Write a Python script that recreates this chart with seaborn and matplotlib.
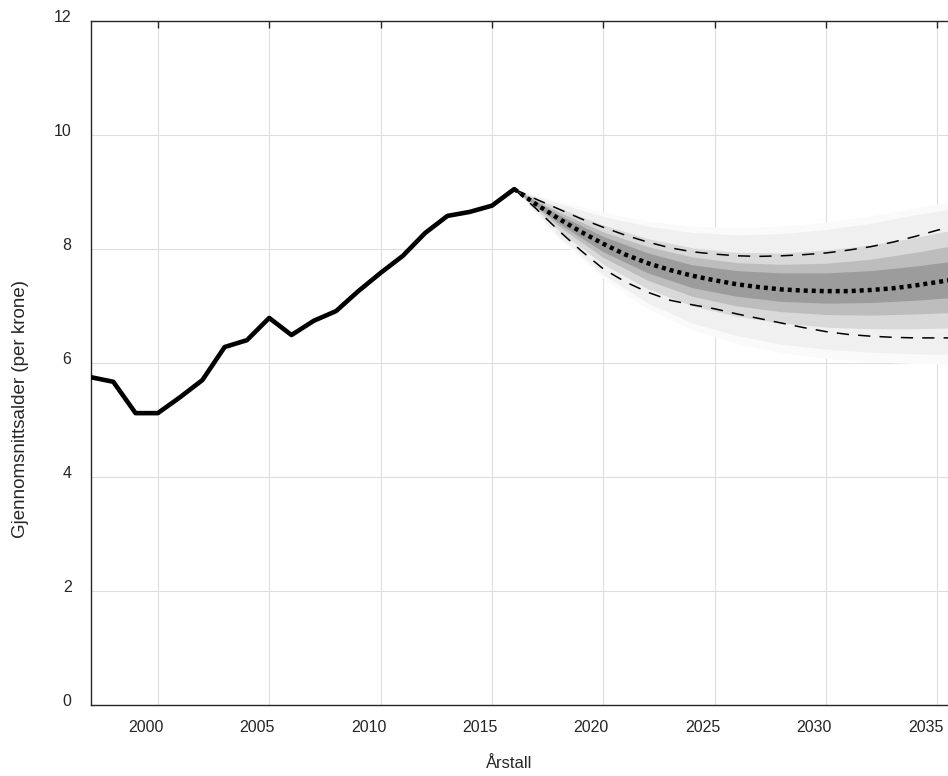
import pandas as pd
import matplotlib
matplotlib.use("Agg")
import matplotlib.pyplot as plt
import matplotlib.transforms as mtransforms
import seaborn as sns

# historical series
hist_years = list(range(1997, 2017))
hist_values = [5.75, 5.67, 5.12, 5.12, 5.40, 5.70, 6.28, 6.40, 6.79, 6.49,
               6.74, 6.91, 7.26, 7.58, 7.88, 8.28, 8.58, 8.65, 8.76, 9.05]

# forecast: median and bounds (yearly)
fc_years = list(range(2016, 2037))
fc_median = [9.05, 8.78, 8.53, 8.30, 8.09, 7.90, 7.75, 7.63, 7.53, 7.45, 7.38,
             7.33, 7.29, 7.27, 7.26, 7.26, 7.28, 7.31, 7.36, 7.42, 7.48]
fc_upper = [9.05, 8.87, 8.70, 8.53, 8.38, 8.24, 8.12, 8.02, 7.95, 7.91, 7.88,
            7.87, 7.88, 7.90, 7.93, 7.98, 8.04, 8.12, 8.22, 8.33, 8.43]
fc_lower = [9.05, 8.70, 8.32, 7.97, 7.65, 7.42, 7.24, 7.10, 7.02, 6.95, 6.86,
            6.78, 6.70, 6.62, 6.55, 6.50, 6.47, 6.45, 6.44, 6.44, 6.44]

# fan bands (every second year), outer to inner
band_years = list(range(2016, 2037, 2))
band5_hi = [9.05, 8.84, 8.64, 8.49, 8.40, 8.37, 8.40, 8.47, 8.58, 8.72, 8.86]
band5_lo = [9.05, 8.18, 7.48, 6.95, 6.58, 6.34, 6.18, 6.08, 6.02, 5.99, 5.98]
band4_hi = [9.05, 8.80, 8.57, 8.40, 8.29, 8.25, 8.27, 8.34, 8.45, 8.60, 8.72]
band4_lo = [9.05, 8.22, 7.55, 7.05, 6.70, 6.48, 6.33, 6.24, 6.19, 6.16, 6.15]
band3_hi = [9.05, 8.72, 8.42, 8.18, 8.02, 7.94, 7.93, 7.98, 8.07, 8.20, 8.36]
band3_lo = [9.05, 8.32, 7.73, 7.30, 7.00, 6.82, 6.70, 6.63, 6.60, 6.60, 6.62]
band2_hi = [9.05, 8.65, 8.30, 8.04, 7.86, 7.76, 7.73, 7.75, 7.82, 7.94, 8.08]
band2_lo = [9.05, 8.40, 7.85, 7.45, 7.17, 7.00, 6.90, 6.85, 6.84, 6.86, 6.89]
band1_hi = [9.05, 8.60, 8.22, 7.93, 7.72, 7.62, 7.58, 7.58, 7.62, 7.70, 7.80]
band1_lo = [9.05, 8.45, 7.95, 7.58, 7.32, 7.17, 7.08, 7.05, 7.06, 7.10, 7.16]

hist_df = pd.DataFrame({"year": hist_years, "value": hist_values})
fc_df = pd.DataFrame({"year": fc_years, "median": fc_median,
                      "upper": fc_upper, "lower": fc_lower})

sns.set_style("whitegrid")
plt.rcParams['font.family'] = ['Liberation Sans', 'DejaVu Sans']

fig = plt.figure(figsize=(9.48, 7.76), dpi=100)
ax = fig.add_axes([0.096, 0.0915, 0.907, 0.8815])

# fan
bands = [(band5_hi, band5_lo, "#fafafa"),
         (band4_hi, band4_lo, "#f0f0f0"),
         (band3_hi, band3_lo, "#d9d9d9"),
         (band2_hi, band2_lo, "#bdbdbd"),
         (band1_hi, band1_lo, "#9c9c9c")]
for hi, lo, col in bands:
    ax.fill_between(band_years, lo, hi, color=col, lw=0, zorder=2)

sns.lineplot(data=hist_df, x="year", y="value", ax=ax, color="black",
             lw=3.3, zorder=5)
sns.lineplot(data=fc_df, x="year", y="median", ax=ax, color="black",
             lw=3.2, linestyle=(0, (0.9, 0.9)), zorder=4)
sns.lineplot(data=fc_df, x="year", y="upper", ax=ax, color="black",
             lw=1.1, linestyle=(0, (8, 6)), zorder=4)
sns.lineplot(data=fc_df, x="year", y="lower", ax=ax, color="black",
             lw=1.1, linestyle=(0, (8, 6)), zorder=4)

ax.set_xlim(1997, 2035.6)
ax.set_ylim(0, 12)
ax.set_xticks([2000, 2005, 2010, 2015, 2020, 2025, 2030, 2035])
ax.set_yticks([0, 2, 4, 6, 8, 10, 12])
ax.grid(True, color="#dedede", lw=0.8)
ax.set_axisbelow(True)
for s in ax.spines.values():
    s.set_color("#262626")
    s.set_linewidth(1.0)
ax.tick_params(direction="in", length=5, width=1, color="#262626",
               top=True, right=False, labelsize=11.5, labelcolor="#262626")
ax.tick_params(axis="y", pad=14)
ax.tick_params(axis="x", pad=11)

# labels sit a little off their ticks in the original export
dx = mtransforms.ScaledTranslation(-12 / 100, 0, fig.dpi_scale_trans)
dy = mtransforms.ScaledTranslation(0, 5 / 100, fig.dpi_scale_trans)
for lab in ax.get_xticklabels():
    lab.set_transform(lab.get_transform() + dx)
for lab in ax.get_yticklabels():
    lab.set_transform(lab.get_transform() + dy)

ax.set_xlabel("Årstall", fontsize=12, color="#262626")
ax.xaxis.set_label_coords(0.4866, -0.075)
ax.set_ylabel("Gjennomsnittsalder (per krone)", fontsize=13.5, color="#262626")
ax.yaxis.set_label_coords(-0.072, 0.433)

fig.savefig("out.png", dpi=100)
